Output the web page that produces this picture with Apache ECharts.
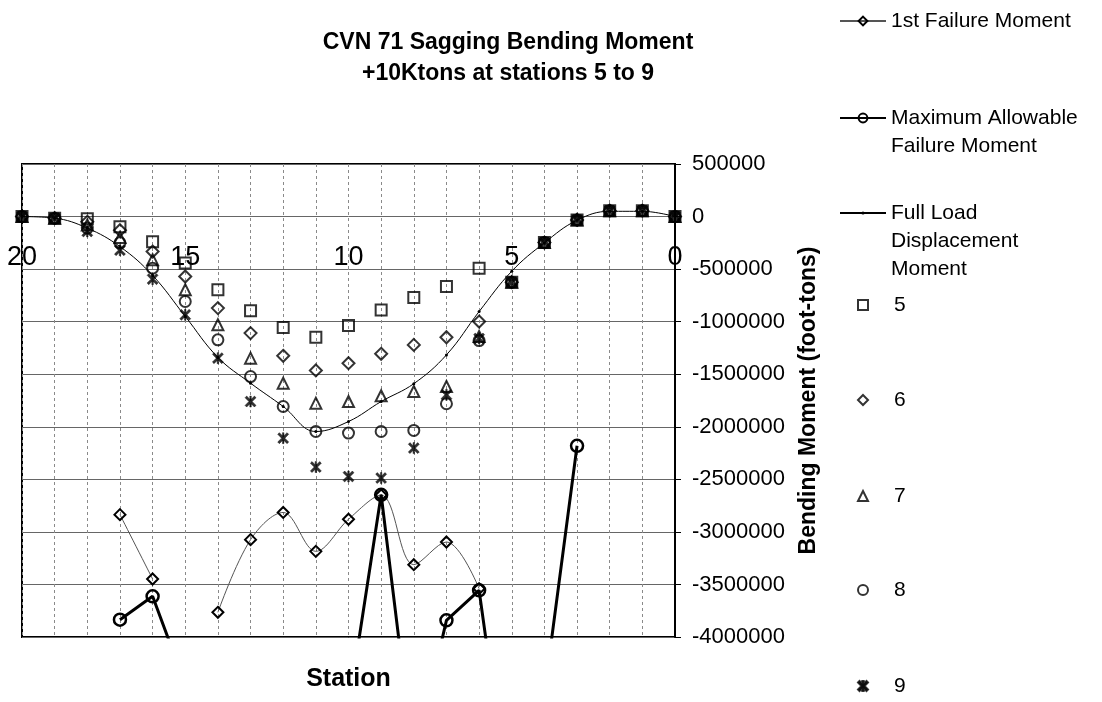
<!DOCTYPE html>
<html>
<head>
<meta charset="utf-8">
<script src="https://cdn.jsdelivr.net/npm/echarts/dist/echarts.min.js"></script>
<style>html,body{margin:0;padding:0;background:#fff}#c{width:1102px;height:702px}</style>
</head>
<body>
<div id="c"></div>
<script>
// ---- data ----
const stations = [20,19,18,17,16,15,14,13,12,11,10,9,8,7,6,5,4,3,2,1,0];
const firstFailure = [null,null,null,-2836000,-3448000,null,-3765000,-3074000,-2815000,-3185000,-2880000,-2650000,-3312000,-3096000,-3540000,null,null,null,null,null,null];
const maxAllowable = [null,null,null,-3835000,-3613000,-4450000,null,null,null,null,-4670000,-2647000,-5180000,-3841000,-3556000,-5780000,-4540000,-2181000,null,null,null];
const fullLoad = [0,-15000,-110000,-286000,-560000,-950000,-1340000,-1585000,-1807000,-2045000,-1950000,-1760000,-1590000,-1316000,-904000,-520000,-250000,-35000,50000,50000,0];
const st5 = [0,-15000,-20000,-96000,-240000,-443000,-697000,-897000,-1056000,-1148000,-1037000,-888000,-771000,-666000,-492000,-624000,-248000,-32000,56000,56000,0];
const st6 = [0,-15000,-50000,-130000,-333000,-570000,-871000,-1109000,-1325000,-1464000,-1395000,-1306000,-1221000,-1148000,-999000,-624000,-248000,-32000,56000,56000,0];
const st7 = [0,-15000,-80000,-200000,-410000,-697000,-1030000,-1347000,-1585000,-1775000,-1760000,-1705000,-1664000,-1617000,-1140000,-624000,-248000,-32000,56000,56000,0];
const st8 = [0,-15000,-110000,-250000,-491000,-808000,-1173000,-1522000,-1807000,-2045000,-2060000,-2045000,-2035000,-1781000,-1180000,-624000,-248000,-32000,56000,56000,0];
const st9 = [0,-15000,-142000,-320000,-596000,-935000,-1347000,-1760000,-2108000,-2383000,-2473000,-2488000,-2203000,-1696000,-1160000,-624000,-248000,-32000,56000,56000,0];
const yTicks = {min:-4000000, max:500000, step:500000};
const xTicks = {min:0, max:20, step:5};

const FONT = "'Liberation Sans', Arial, sans-serif";
const pairs = vals => stations.map((s,i) => [s, vals[i]]);
const HOLLOW = 'rgba(255,255,255,0)';
const STAR = 'path://M0,1.5 L1.5,0 L5,3.5 L8.5,0 L10,1.5 L6.5,5 L10,8.5 L8.5,10 L5,6.5 L1.5,10 L0,8.5 L3.5,5 Z M4.3,0 L5.7,0 L5.7,10 L4.3,10 Z';

// grid geometry
const G = {left:22, right:427, top:164, bottom:65};
const plotH = 702 - G.top - G.bottom;
const zeroFromBottom = plotH * (0 - yTicks.min) / (yTicks.max - yTicks.min);

function lineLegend(name, top, itemH, formatter){
  const l = {data:[name], left:839, top:top, orient:'vertical', padding:0, itemGap:0, selectedMode:false,
    itemWidth:46, itemHeight:itemH,
    textStyle:{fontSize:21, lineHeight:28, color:'#000', fontFamily:FONT}};
  if (formatter) l.formatter = formatter;
  return l;
}
function dotLegend(name, center){
  return {data:[name], left:857, top:center-14, orient:'vertical', padding:0, itemGap:0, selectedMode:false,
    itemWidth:10, itemHeight:10,
    textStyle:{fontSize:21, lineHeight:28, color:'#000', fontFamily:FONT, padding:[0,0,0,21]}};
}

const gridV = {color:'#8a8a8a', width:1, type:[3,3]};

const option = {
  animation:false,
  backgroundColor:'#fff',
  textStyle:{fontFamily:FONT},
  title:{
    text:'CVN 71 Sagging Bending Moment\n+10Ktons at stations 5 to 9',
    left:508, top:27, textAlign:'center', padding:0,
    textStyle:{fontSize:23, fontWeight:'bold', lineHeight:31, color:'#000', fontFamily:FONT}
  },
  legend:[
    lineLegend('1st Failure Moment', 7, 11),
    lineLegend('Maximum Allowable Failure Moment', 76, 11, ' \nMaximum Allowable\nFailure Moment'),
    lineLegend('Full Load Displacement Moment', 143, 4, ' \n \nFull Load\nDisplacement\nMoment'),
    dotLegend('5', 305),
    dotLegend('6', 400),
    dotLegend('7', 496),
    dotLegend('8', 590),
    dotLegend('9', 686)
  ],
  grid:{left:G.left, right:G.right, top:G.top, bottom:G.bottom, show:true, borderColor:'#000', borderWidth:2,
        backgroundColor:'transparent', containLabel:false, outerBoundsMode:'none'},
  xAxis:[
    {type:'value', min:xTicks.min, max:xTicks.max, interval:xTicks.step, inverse:true, position:'bottom',
     offset:-zeroFromBottom,
     axisLine:{show:false, onZero:false}, axisTick:{show:false},
     axisLabel:{fontSize:27, color:'#000', margin:27, fontFamily:FONT, showMinLabel:true, showMaxLabel:true, hideOverlap:false},
     splitLine:{show:true, lineStyle:gridV},
     minorTick:{show:false, splitNumber:5},
     minorSplitLine:{show:true, lineStyle:gridV}},
    {type:'value', min:xTicks.min, max:xTicks.max, inverse:true, position:'bottom',
     axisLine:{show:false, onZero:false}, axisTick:{show:false}, axisLabel:{show:false}, splitLine:{show:false},
     name:'Station', nameLocation:'middle', nameGap:30,
     nameTextStyle:{fontSize:25, fontWeight:'bold', color:'#000', fontFamily:FONT}}
  ],
  yAxis:{
    type:'value', position:'right', min:yTicks.min, max:yTicks.max, interval:yTicks.step,
    axisLine:{show:true, onZero:false, lineStyle:{color:'#000', width:2}},
    axisTick:{show:true, inside:false, length:6, lineStyle:{color:'#000', width:1}},
    axisLabel:{fontSize:22, color:'#000', margin:17, fontFamily:FONT, formatter:v=>String(v)},
    splitLine:{show:true, lineStyle:{color:'#666', width:1}},
    name:'Bending Moment (foot-tons)', nameLocation:'middle', nameRotate:90, nameGap:122,
    nameTextStyle:{fontSize:23, fontWeight:'bold', color:'#000', fontFamily:FONT}
  },
  series:[
    {name:'1st Failure Moment', type:'line', data:pairs(firstFailure), smooth:0.35, clip:true,
     symbol:'diamond', symbolSize:11, showAllSymbol:true,
     lineStyle:{color:'#555', width:1},
     itemStyle:{color:HOLLOW, borderColor:'#000', borderWidth:2}},
    {name:'Maximum Allowable Failure Moment', type:'line', data:pairs(maxAllowable), smooth:false, clip:true,
     symbol:'circle', symbolSize:12, showAllSymbol:true,
     lineStyle:{color:'#000', width:3},
     itemStyle:{color:HOLLOW, borderColor:'#000', borderWidth:2.5}},
    {name:'Full Load Displacement Moment', type:'line', data:pairs(fullLoad), smooth:0.4, clip:true,
     symbol:'circle', symbolSize:3, showAllSymbol:true,
     lineStyle:{color:'#000', width:1},
     itemStyle:{color:'#000', borderColor:'#000', borderWidth:0}},
    {name:'5', type:'scatter', data:pairs(st5), symbol:'rect', symbolSize:11,
     itemStyle:{color:HOLLOW, borderColor:'#000', borderWidth:2}},
    {name:'6', type:'scatter', data:pairs(st6), symbol:'diamond', symbolSize:12,
     itemStyle:{color:HOLLOW, borderColor:'#000', borderWidth:2}},
    {name:'7', type:'scatter', data:pairs(st7), symbol:'triangle', symbolSize:11,
     itemStyle:{color:HOLLOW, borderColor:'#000', borderWidth:2}},
    {name:'8', type:'scatter', data:pairs(st8), symbol:'circle', symbolSize:11,
     itemStyle:{color:HOLLOW, borderColor:'#000', borderWidth:2}},
    {name:'9', type:'scatter', data:pairs(st9), symbol:STAR, symbolSize:11,
     itemStyle:{color:'#000', borderColor:'#000', borderWidth:0.5}}
  ]
};

const chart = echarts.init(document.getElementById('c'), null, {renderer:'canvas', width:1102, height:702});
chart.setOption(option);
</script>
</body>
</html>
